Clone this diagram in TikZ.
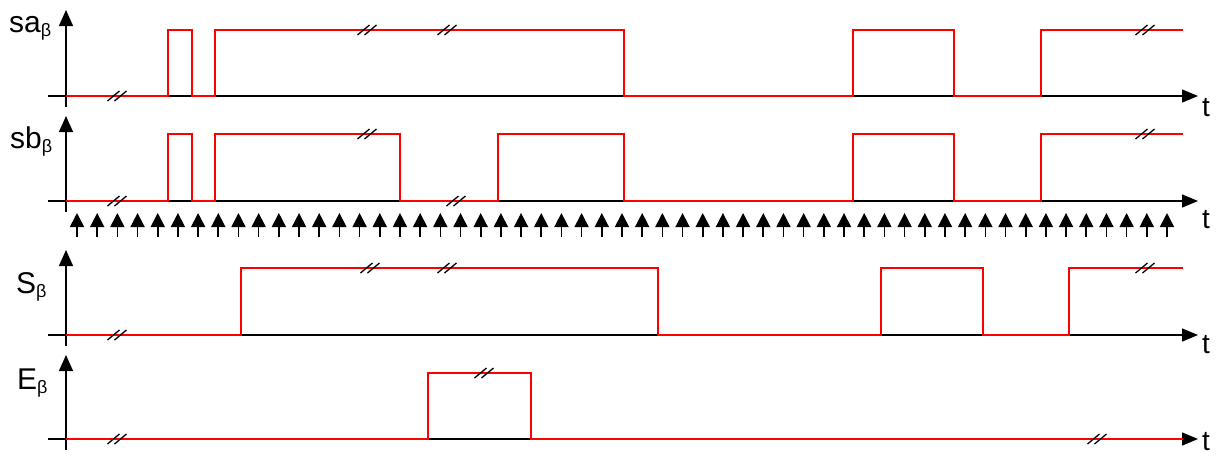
\documentclass[tikz,border=0pt]{standalone}
\usepackage{fontspec}
\setmainfont{Liberation Sans}
\usetikzlibrary{arrows.meta}
\begin{document}
\begin{tikzpicture}[x=1pt,y=-1pt,
  axis/.style={line width=1.4pt,black},
  haxis/.style={axis,-{Triangle[length=16pt,width=13pt]}},
  vaxis/.style={axis,-{Triangle[length=16pt,width=14pt]}},
  sig/.style={line width=1.4pt,red,line join=miter},
  brk/.style={line width=1.3pt,black},
  tick/.style={line width=1.6pt,black,-{Triangle[length=14pt,width=14pt]}},
  lbl/.style={inner sep=0pt,anchor=base west},
  tlbl/.style={inner sep=0pt,anchor=base west,font=\fontsize{28}{28}\selectfont}]
\useasboundingbox (0,0) rectangle (1219,456);
\newcommand{\siglabel}[2]{{\fontsize{30}{30}\selectfont #1}\raisebox{-4pt}{\fontsize{18}{18}\selectfont #2}}
% break mark "//" centred on a point of a trace
\newcommand{\brkmark}[2]{%
  \draw[brk] (#1-9.5,#2+5) -- (#1+2.5,#2-5);
  \draw[brk] (#1-2.5,#2+5) -- (#1+9.5,#2-5);}

% ---------- axes: origin, left end, bottom end, top, right end ----------
\foreach \n/\Y/\T in {1/96/10, 2/201/116, 3/335/250, 4/439/355}{
  \coordinate (o\n) at (66,\Y);
  \coordinate (l\n) at (48,\Y);
  \coordinate (r\n) at (1198,\Y);
  \coordinate (b\n) at (66,\Y+11);
  \coordinate (u\n) at (66,\T);
  \draw[haxis] (l\n) -- (r\n);
  \draw[vaxis] (b\n) -- (u\n);
}

% ---------- axis labels ----------
\node[lbl] (lsa) at (9,32) {\siglabel{sa}{β}};
\node[lbl] (lsb) at (10,148) {\siglabel{sb}{β}};
\node[lbl] (lS)  at (16,293) {\siglabel{S}{β}};
\node[lbl] (lE)  at (17,389) {\siglabel{E}{β}};
\node[tlbl] (t1) at (1202,116) {t};
\node[tlbl] (t2) at (1202,228) {t};
\node[tlbl] (t3) at (1202,353) {t};
\node[tlbl] (t4) at (1202,450) {t};

% ---------- traces ----------
% sa
\draw[sig] (o1) -- (168,96) -- (168,30) -- (192,30) -- (192,96) -- (215,96)
  -- (215,30) -- (624,30) -- (624,96) -- (853,96) -- (853,30) -- (954,30)
  -- (954,96) -- (1041,96) -- (1041,30) -- (1183,30);
\brkmark{117}{96}\brkmark{367}{30}\brkmark{447}{30}\brkmark{1145}{30}
% sb
\draw[sig] (o2) -- (168,201) -- (168,134) -- (192,134) -- (192,201) -- (215,201)
  -- (215,134) -- (400,134) -- (400,201) -- (498,201) -- (498,134) -- (624,134)
  -- (624,201) -- (853,201) -- (853,134) -- (954,134) -- (954,201) -- (1041,201)
  -- (1041,134) -- (1183,134);
\brkmark{117}{201}\brkmark{367}{134}\brkmark{456}{201}\brkmark{1145}{134}
% clock ticks
\foreach \k in {0,...,54}{
  \draw[tick] (77+20.185*\k,237) -- (77+20.185*\k,213);
}
% S
\draw[sig] (o3) -- (241,335) -- (241,268) -- (658,268) -- (658,335) -- (881,335)
  -- (881,268) -- (983,268) -- (983,335) -- (1069,335) -- (1069,268) -- (1183,268);
\brkmark{117}{335}\brkmark{370}{268}\brkmark{447}{268}\brkmark{1145}{268}
% E
\draw[sig] (o4) -- (428,439) -- (428,373) -- (531,373) -- (531,439) -- (1183,439);
\brkmark{117}{439}\brkmark{484}{373}\brkmark{1097}{439}
\end{tikzpicture}
\end{document}
